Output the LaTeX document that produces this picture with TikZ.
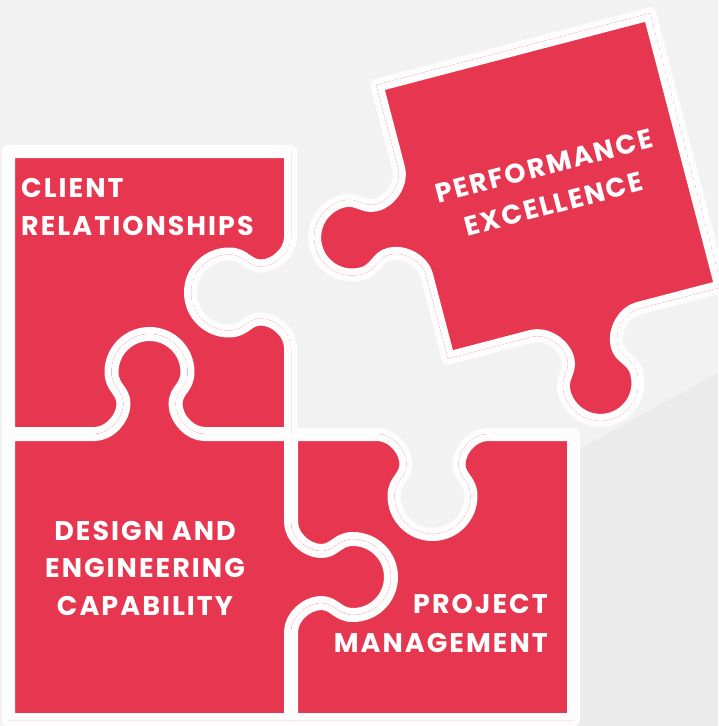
\documentclass[tikz,border=0pt]{standalone}
\usepackage{fontspec}
\setmainfont{Poppins}
\newfontfamily\pzfont{Poppins}[LetterSpace=7.5]
\definecolor{pzred}{HTML}{E63650}
\definecolor{bgA}{HTML}{F2F2F2}
\definecolor{bgB}{HTML}{EBEBEB}
\definecolor{pzwhite}{HTML}{FDFDFD}
\newcommand\pzX[2]{\pzcx+(#1)*(\pztx)+(#2)*(\pznx)}
\newcommand\pzY[2]{\pzcy+(#1)*(\pzty)+(#2)*(\pzny)}
\tikzset{
  pzset/.code n args={6}{\def\pzcx{#1}\def\pzcy{#2}\def\pztx{#3}\def\pzty{#4}\def\pznx{#5}\def\pzny{#6}},
  pztab/.style={insert path={
    -- ({\pzX{-55}{0}},{\pzY{-55}{0}})
    .. controls ({\pzX{-40}{0}},{\pzY{-40}{0}}) and ({\pzX{-26}{16}},{\pzY{-26}{16}}) .. ({\pzX{-26}{30}},{\pzY{-26}{30}})
    .. controls ({\pzX{-26}{44}},{\pzY{-26}{44}}) and ({\pzX{-38}{46}},{\pzY{-38}{46}}) .. ({\pzX{-38}{62}},{\pzY{-38}{62}})
    .. controls ({\pzX{-38}{83}},{\pzY{-38}{83}}) and ({\pzX{-21}{100}},{\pzY{-21}{100}}) .. ({\pzX{0}{100}},{\pzY{0}{100}})
    .. controls ({\pzX{21}{100}},{\pzY{21}{100}}) and ({\pzX{38}{83}},{\pzY{38}{83}}) .. ({\pzX{38}{62}},{\pzY{38}{62}})
    .. controls ({\pzX{38}{46}},{\pzY{38}{46}}) and ({\pzX{26}{44}},{\pzY{26}{44}}) .. ({\pzX{26}{30}},{\pzY{26}{30}})
    .. controls ({\pzX{26}{16}},{\pzY{26}{16}}) and ({\pzX{40}{0}},{\pzY{40}{0}}) .. ({\pzX{55}{0}},{\pzY{55}{0}})
  }},
  halo/.style={fill=pzwhite, draw=pzwhite, line width=12pt, line join=round},
  seam/.style={draw=pzwhite, line width=14pt, line join=round},
  lbl/.style={text=white, inner sep=0pt, font=\pzfont\fontsize{27}{30}\selectfont\bfseries},
  lblpe/.style={text=white, inner sep=0pt, align=center, font=\pzfont\fontsize{27}{39}\selectfont\bfseries}
}
\def\pathTL{(8,151) -- (291,151) [pzset={291}{292.5}{0}{1}{-1}{0}, pztab] -- (291,434) [pzset={149.5}{434}{-1}{0}{0}{-1}, pztab] -- (8,434) -- cycle}
\def\pathBL{(8,434) [pzset={149.5}{434}{1}{0}{0}{-1}, pztab] -- (291,434) [pzset={291}{577}{0}{1}{1}{0}, pztab] -- (291,720) -- (8,720) -- cycle}
\def\pathBR{(291,434) [pzset={432.5}{434}{1}{0}{0}{1}, pztab] -- (574,434) -- (574,720) -- (291,720) [pzset={291}{577}{0}{-1}{1}{0}, pztab] -- cycle}
\def\pathPE{(-141.5,-141.5) -- (141.5,-141.5) -- (141.5,141.5) [pzset={0}{141.5}{-1}{0}{0}{1}, pztab] -- (-141.5,141.5) [pzset={-141.5}{0}{0}{-1}{-1}{0}, pztab] -- cycle}
\begin{document}
\begin{tikzpicture}[x=1pt, y=-1pt]
\useasboundingbox (0,0) rectangle (718,726);
\fill[bgA] (0,0) rectangle (718,726);
\fill[bgB] (500,492.5) -- (718,373) -- (718,726) -- (500,726) -- cycle;
% white halo under the assembled pieces
\path[halo] \pathTL;
\path[halo] \pathBL;
\path[halo] \pathBR;
\begin{scope}[shift={(549,186)}, rotate=14.66]
  \path[halo] \pathPE;
\end{scope}
% red pieces with white seams
\begin{scope}
  \clip \pathTL;
  \fill[pzred] \pathTL;
  \path[seam] \pathTL;
\end{scope}
\begin{scope}
  \clip \pathBL;
  \fill[pzred] \pathBL;
  \path[seam] \pathBL;
\end{scope}
\begin{scope}
  \clip \pathBR;
  \fill[pzred] \pathBR;
  \path[seam] \pathBR;
\end{scope}
\begin{scope}[shift={(549,186)}, rotate=14.66]
  \begin{scope}
    \clip \pathPE;
    \fill[pzred] \pathPE;
    \path[seam] \pathPE;
  \end{scope}
  \node[lblpe, transform shape, anchor=center] (pe) at (0,-1) {PERFORMANCE\\EXCELLENCE};
\end{scope}
% labels
\node[lbl, anchor=base west] (cr1) at (21,197) {CLIENT};
\node[lbl, anchor=base west] (cr2) at (21,235) {RELATIONSHIPS};
\node[lbl, anchor=base] (de1) at (145,540) {DESIGN AND};
\node[lbl, anchor=base] (de2) at (145,577) {ENGINEERING};
\node[lbl, anchor=base] (de3) at (145,615) {CAPABILITY};
\node[lbl, anchor=base east] (pm1) at (548,613) {PROJECT};
\node[lbl, anchor=base east] (pm2) at (548,652) {MANAGEMENT};
\end{tikzpicture}
\end{document}
